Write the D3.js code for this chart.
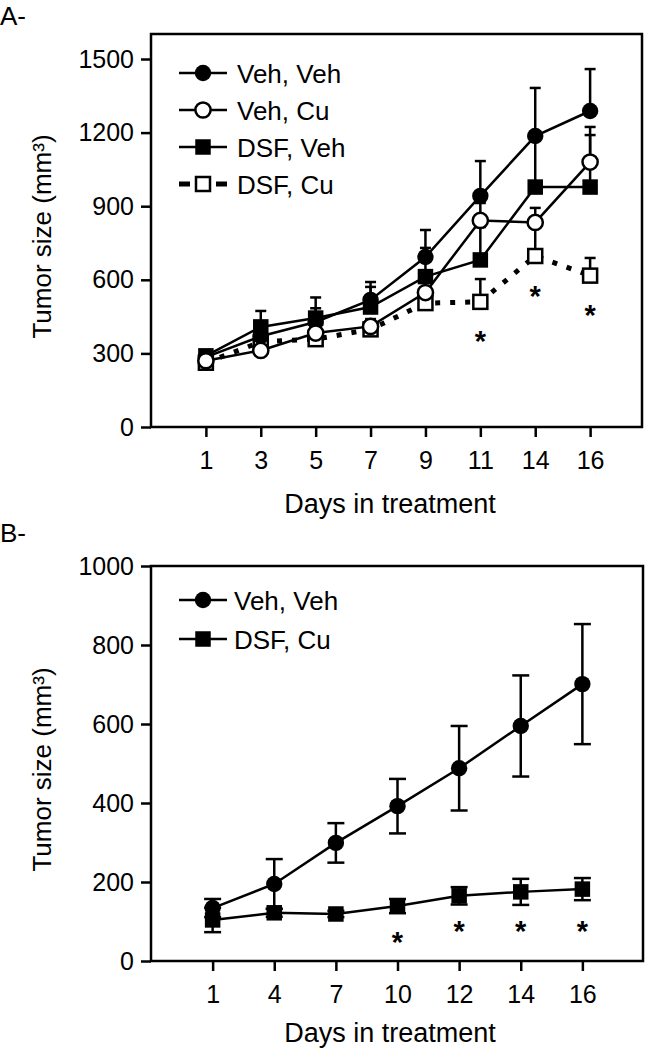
<!DOCTYPE html>
<html>
<head>
<meta charset="utf-8">
<script src="https://cdn.jsdelivr.net/npm/d3@7/dist/d3.min.js"></script>
<style>
  html, body { margin: 0; padding: 0; background: #fff; }
  svg text { font-family: "Liberation Sans", Arial, Helvetica, sans-serif; fill: #000; }
</style>
</head>
<body>
<svg id="chart" width="645" height="1050"></svg>
<script>
// ---------- Panel A data ----------
const daysA = ["1", "3", "5", "7", "9", "11", "14", "16"];
const yTicksA = [0, 300, 600, 900, 1200, 1500];
const seriesNamesA = ["Veh, Veh", "Veh, Cu", "DSF, Veh", "DSF, Cu"];
const vehVehA = [285, 370, 428, 518, 693, 942, 1186, 1288];
const vehVehErrA = [20, 40, 100, 73, 110, 142, 196, 171];
const vehCuA = [270, 312, 383, 410, 548, 842, 834, 1080];
const vehCuErrA = [20, 30, 40, 30, 50, 71, 59, 143];
const dsfVehA = [290, 408, 444, 489, 613, 681, 978, 978];
const dsfVehErrA = [20, 65, 40, 82, 117, 134, 192, 212];
const dsfCuA = [262, 347, 358, 398, 505, 510, 697, 617];
const dsfCuErrA = [20, 30, 30, 25, 30, 93, 133, 72];
const starDaysA = ["11", "14", "16"];
const starValsA = [371, 554, 477];

// ---------- Panel B data ----------
const daysB = ["1", "4", "7", "10", "12", "14", "16"];
const yTicksB = [0, 200, 400, 600, 800, 1000];
const seriesNamesB = ["Veh, Veh", "DSF, Cu"];
const vehVehB = [134, 195, 299, 392, 488, 595, 701];
const vehVehErrB = [23, 63, 50, 69, 107, 128, 152];
const dsfCuB = [104, 122, 119, 139, 165, 175, 182];
const dsfCuErrB = [31, 10, 8, 18, 22, 33, 28];
const starDaysB = ["10", "12", "14", "16"];
const starValsB = [61, 89, 89, 89];

const yLabel = "Tumor size (mm³)";
const xLabel = "Days in treatment";

const svg = d3.select("#chart");
const LW = 2.5;

function panel(cfg) {
  const g = svg.append("g");
  const x = d3.scalePoint().domain(cfg.days).range([cfg.left, cfg.xEnd]).padding(1);
  const y = d3.scaleLinear().domain([0, cfg.yMax]).range([cfg.bottom, cfg.yTopVal]);

  // panel letter
  g.append("text").attr("x", 0).attr("y", cfg.letterY)
    .attr("font-size", 26).text(cfg.letter);

  // frame
  g.append("rect").attr("x", cfg.left).attr("y", cfg.top)
    .attr("width", cfg.right - cfg.left).attr("height", cfg.bottom - cfg.top)
    .attr("fill", "none").attr("stroke", "#000").attr("stroke-width", LW);

  // axes
  const ya = g.append("g").attr("transform", `translate(${cfg.left},0)`)
    .call(d3.axisLeft(y).tickValues(cfg.yTicks).tickSize(10).tickPadding(7).tickFormat(d3.format("d")));
  ya.select(".domain").remove();
  ya.selectAll(".tick line").attr("stroke", "#000").attr("stroke-width", LW);
  ya.selectAll(".tick text").attr("font-size", 25).attr("font-family", "Liberation Sans, Arial, sans-serif");

  const xa = g.append("g").attr("transform", `translate(0,${cfg.bottom})`)
    .call(d3.axisBottom(x).tickSize(10).tickPadding(14));
  xa.select(".domain").remove();
  xa.selectAll(".tick line").attr("stroke", "#000").attr("stroke-width", LW);
  xa.selectAll(".tick text").attr("font-size", 25).attr("font-family", "Liberation Sans, Arial, sans-serif");

  // axis titles
  g.append("text").attr("x", cfg.xTitleX).attr("y", cfg.xTitleY)
    .attr("text-anchor", "middle").attr("font-size", 27).text(xLabel);
  g.append("text")
    .attr("transform", `translate(51,${(cfg.top + cfg.bottom) / 2 + 6}) rotate(-90)`)
    .attr("text-anchor", "middle").attr("font-size", 26).text(yLabel);

  // error bars
  const eg = g.append("g");
  cfg.series.forEach(s => {
    s.vals.forEach((v, i) => {
      const cx = x(cfg.days[i]);
      const hi = y(v + s.err[i]);
      const lo = cfg.twoSided ? y(v - s.err[i]) : y(v);
      eg.append("line").attr("x1", cx).attr("x2", cx).attr("y1", hi).attr("y2", lo)
        .attr("stroke", "#000").attr("stroke-width", LW);
      eg.append("line").attr("x1", cx - cfg.cap / 2).attr("x2", cx + cfg.cap / 2)
        .attr("y1", hi).attr("y2", hi).attr("stroke", "#000").attr("stroke-width", LW);
      if (cfg.twoSided) {
        eg.append("line").attr("x1", cx - cfg.cap / 2).attr("x2", cx + cfg.cap / 2)
          .attr("y1", lo).attr("y2", lo).attr("stroke", "#000").attr("stroke-width", LW);
      }
    });
  });

  // lines
  const line = d3.line().x(d => d[0]).y(d => d[1]);
  cfg.series.forEach(s => {
    const pts = s.vals.map((v, i) => [x(cfg.days[i]), y(v)]);
    const p = g.append("path").attr("d", line(pts)).attr("fill", "none").attr("stroke", "#000");
    if (s.dotted) p.attr("stroke-width", 5).attr("stroke-dasharray", "5,10");
    else p.attr("stroke-width", LW);
  });

  // markers
  function marker(sel, s, cx, cy) {
    if (s.shape === "circle") {
      sel.append("circle").attr("cx", cx).attr("cy", cy).attr("r", s.open ? 7.6 : 8.2)
        .attr("fill", s.open ? "#fff" : "#000").attr("stroke", "#000").attr("stroke-width", s.open ? 2.5 : 0);
    } else {
      const sz = s.open ? 14 : 15.5;
      sel.append("rect").attr("x", cx - sz / 2).attr("y", cy - sz / 2).attr("width", sz).attr("height", sz)
        .attr("fill", s.open ? "#fff" : "#000").attr("stroke", "#000").attr("stroke-width", s.open ? 2.5 : 0);
    }
  }
  const order = cfg.series.slice().sort((a, b) => (a.shape === "rect" ? 0 : 1) - (b.shape === "rect" ? 0 : 1));
  order.forEach(s => {
    s.vals.forEach((v, i) => marker(g, s, x(cfg.days[i]), y(v)));
  });

  // significance stars
  cfg.starDays.forEach((d, i) => {
    g.append("text").attr("x", x(d)).attr("y", y(cfg.starVals[i]) + 15)
      .attr("text-anchor", "middle").attr("font-size", 29).attr("font-weight", "bold").text("*");
  });

  // legend
  cfg.series.forEach((s, i) => {
    const ly = cfg.legendY + i * cfg.legendStep;
    const l = g.append("line").attr("x1", 179).attr("x2", 227).attr("y1", ly).attr("y2", ly).attr("stroke", "#000");
    if (s.dotted) l.attr("stroke-width", 5).attr("stroke-dasharray", "11,26");
    else l.attr("stroke-width", LW);
    marker(g, s, 203, ly);
    g.append("text").attr("x", cfg.legendTextX).attr("y", ly + 9.5).attr("font-size", 26).text(s.name);
  });
}

panel({
  letter: "A-", letterY: 25,
  days: daysA, yMax: 1500, yTicks: yTicksA,
  left: 151, right: 642, top: 34, bottom: 427, yTopVal: 59, xEnd: 645,
  xTitleX: 390, xTitleY: 513, cap: 11, twoSided: false,
  legendY: 73, legendStep: 37, legendTextX: 237,
  starDays: starDaysA, starVals: starValsA,
  series: [
    { name: seriesNamesA[0], vals: vehVehA, err: vehVehErrA, shape: "circle", open: false },
    { name: seriesNamesA[1], vals: vehCuA, err: vehCuErrA, shape: "circle", open: true },
    { name: seriesNamesA[2], vals: dsfVehA, err: dsfVehErrA, shape: "rect", open: false },
    { name: seriesNamesA[3], vals: dsfCuA, err: dsfCuErrA, shape: "rect", open: true, dotted: true }
  ]
});

panel({
  letter: "B-", letterY: 542,
  days: daysB, yMax: 1000, yTicks: yTicksB,
  left: 151, right: 643, top: 566, bottom: 961, yTopVal: 566, xEnd: 644,
  xTitleX: 390, xTitleY: 1042, cap: 17, twoSided: true,
  legendY: 600, legendStep: 39, legendTextX: 234,
  starDays: starDaysB, starVals: starValsB,
  series: [
    { name: seriesNamesB[0], vals: vehVehB, err: vehVehErrB, shape: "circle", open: false },
    { name: seriesNamesB[1], vals: dsfCuB, err: dsfCuErrB, shape: "rect", open: false }
  ]
});
</script>
</body>
</html>
